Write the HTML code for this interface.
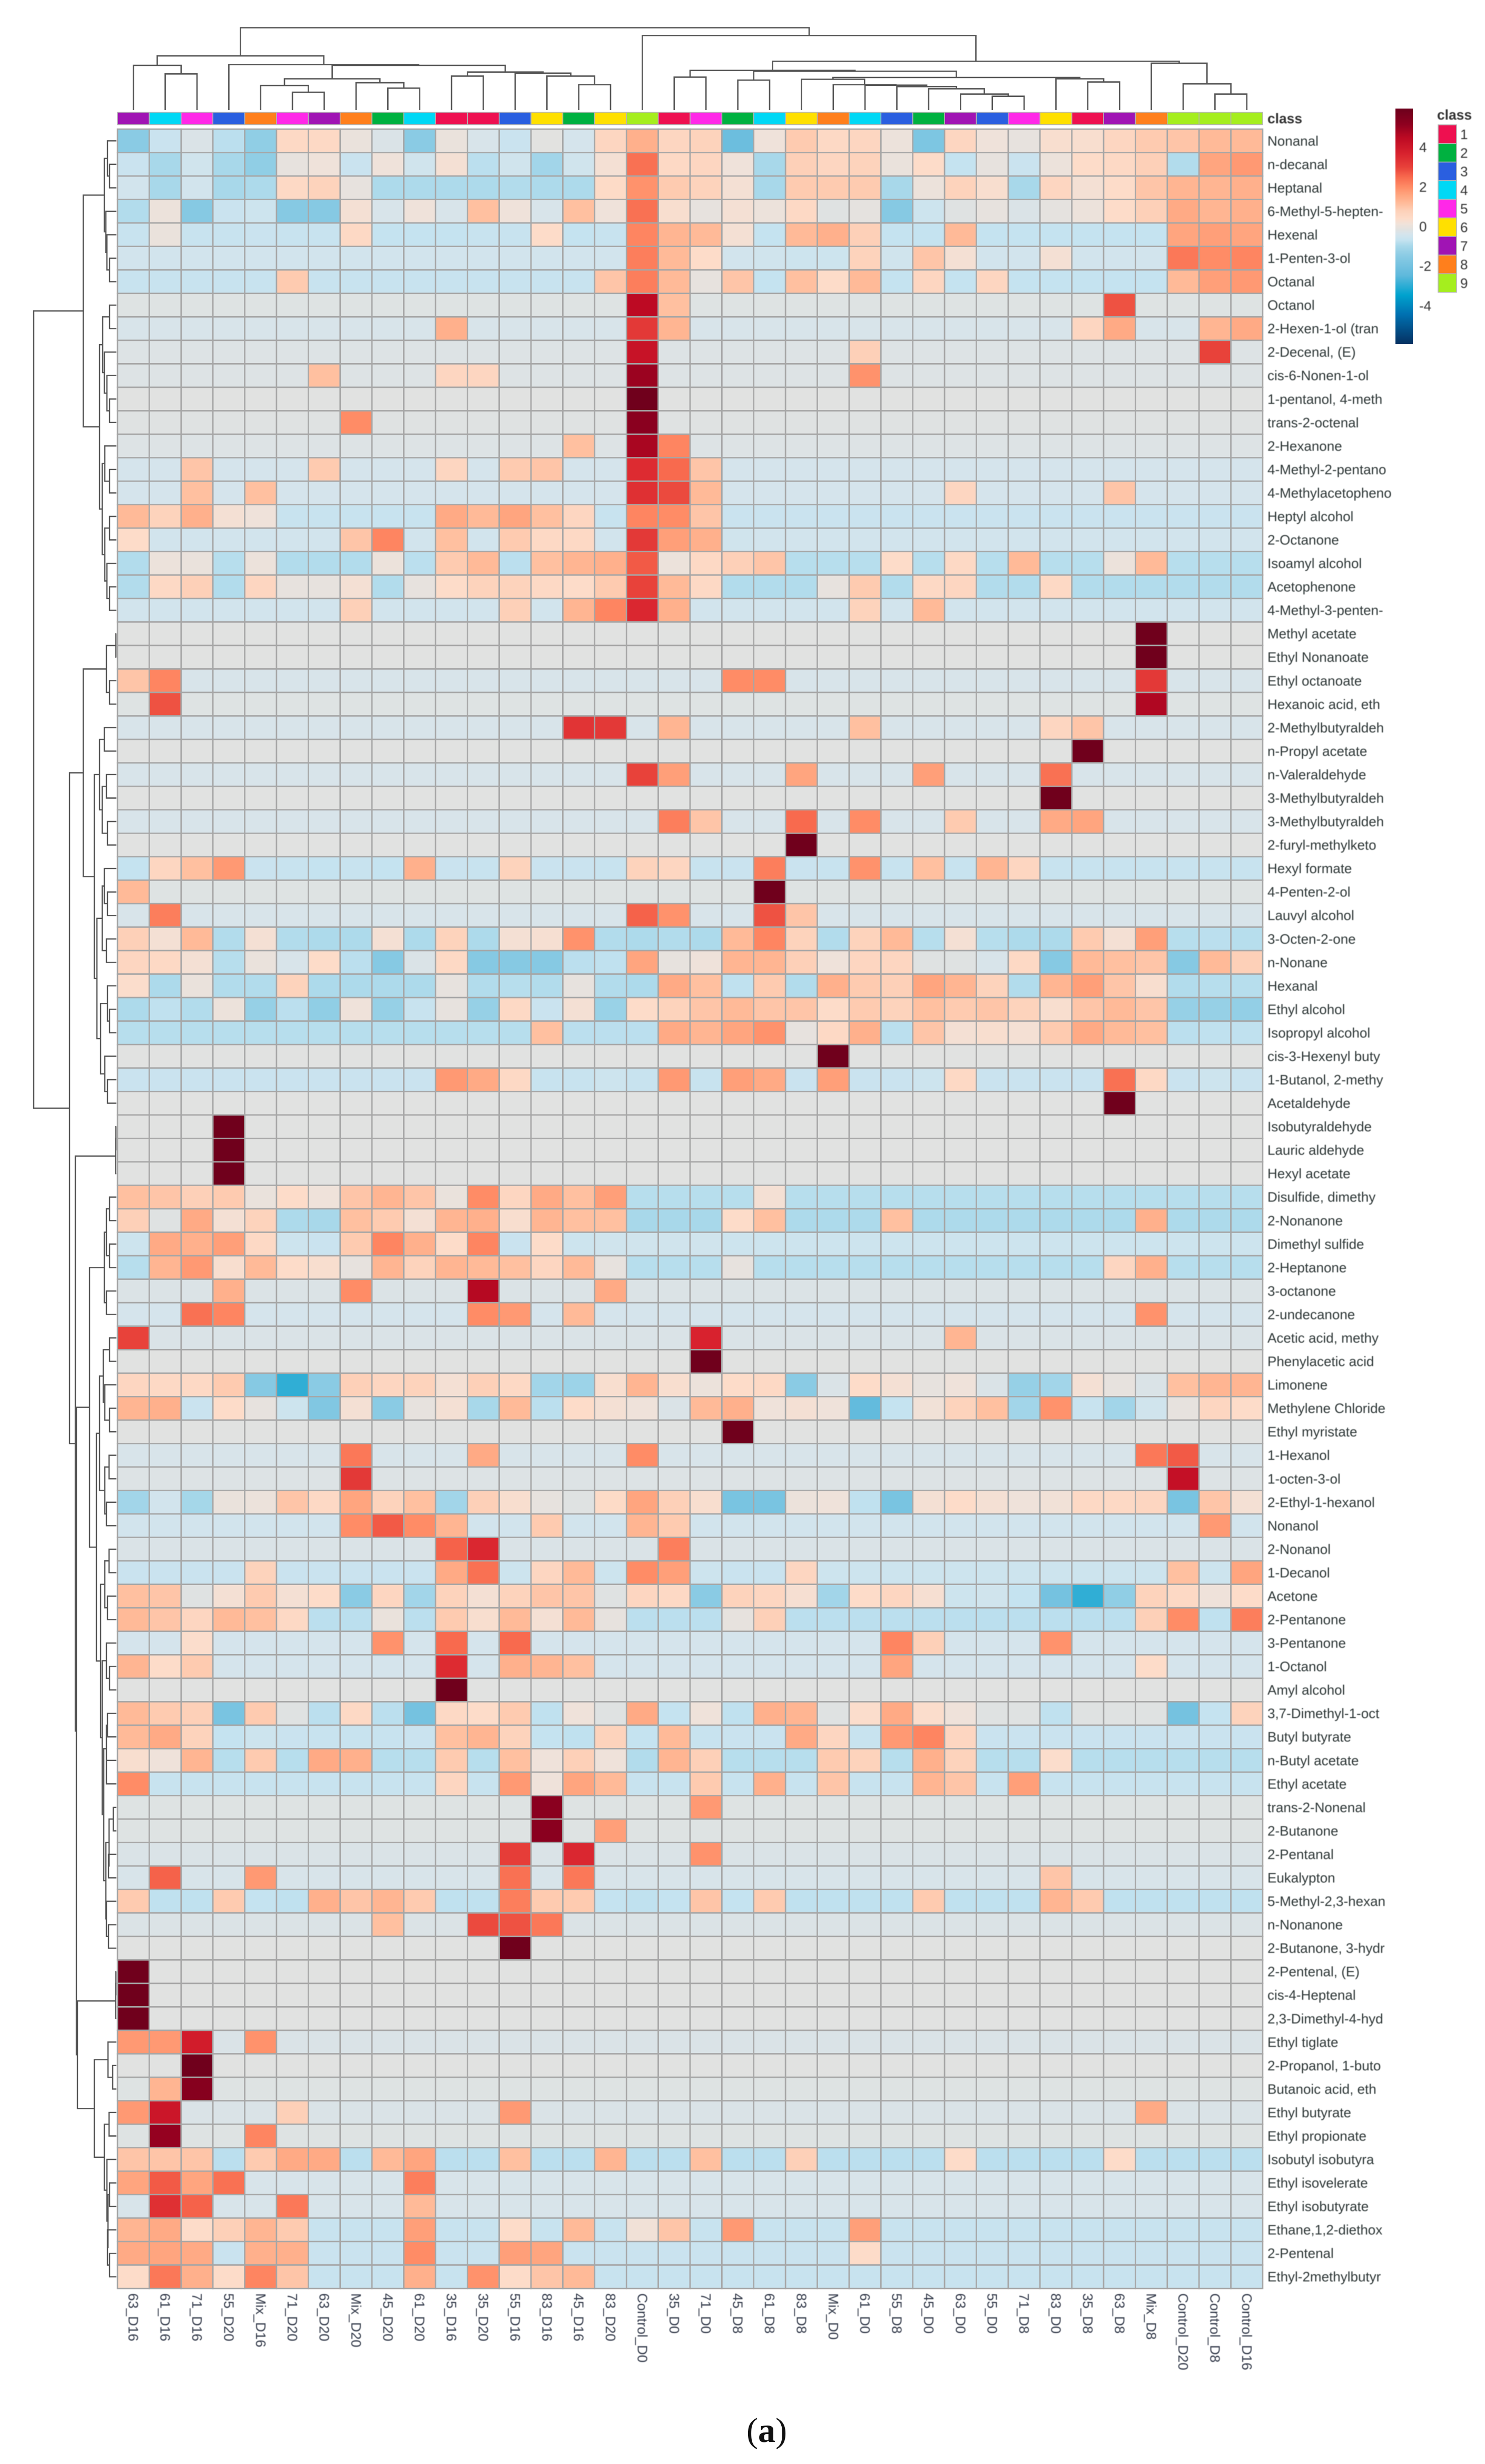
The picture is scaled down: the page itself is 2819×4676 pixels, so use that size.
<!DOCTYPE html>
<html lang="en">
<head>
<meta charset="utf-8">
<title>Clustered heatmap of volatile compounds</title>
<style>
html,body{margin:0;padding:0;background:#fff;}
svg{display:block;}
text{font-family:"Liberation Sans",sans-serif;}
.soft{filter:blur(.7px);}
</style>
</head>
<body>
<svg id="chart" xmlns="http://www.w3.org/2000/svg" width="2819" height="4676" viewBox="0 0 2819 4676">
<defs><linearGradient id="scaleGradient" x1="0" y1="0" x2="0" y2="1"></linearGradient></defs>
<rect width="2819" height="4676" fill="#fff"/>
<path id="colDendro" fill="none" stroke="#555" stroke-width="2.6"/>
<path id="rowDendro" fill="none" stroke="#555" stroke-width="2.4"/>
<g id="classBar"></g>
<g id="cells"></g>
<g id="rowLabelGroup" class="soft"></g>
<g id="colLabelGroup" class="soft"></g>
<text class="soft" x="2406" y="234" font-size="26.4" font-weight="bold" fill="#333">class</text>
<rect x="2649" y="206" width="33" height="447" fill="url(#scaleGradient)"/>
<g id="scaleTicks" class="soft"></g>
<text class="soft" x="2728" y="227" font-size="26.4" font-weight="bold" fill="#333">class</text>
<g id="classLegend"></g>
<text x="1417" y="4634" font-size="66" fill="#111" style="font-family:'Liberation Serif',serif">(<tspan font-weight="bold">a</tspan>)</text>
</svg>
<script>
const columnLabels=["63_D16","61_D16","71_D16","55_D20","Mix_D16","71_D20","63_D20","Mix_D20","45_D20","61_D20","35_D16","35_D20","55_D16","83_D16","45_D16","83_D20","Control_D0","35_D0","71_D0","45_D8","61_D8","83_D8","Mix_D0","61_D0","55_D8","45_D0","63_D0","55_D0","71_D8","83_D0","35_D8","63_D8","Mix_D8","Control_D20","Control_D8","Control_D16"];
const columnClasses=[7,4,5,3,8,5,7,8,2,4,1,1,3,6,2,6,9,1,5,2,4,6,8,4,3,2,7,3,5,6,1,7,8,9,9,9];
const rowLabels=["Nonanal","n-decanal","Heptanal","6-Methyl-5-hepten-","Hexenal","1-Penten-3-ol","Octanal","Octanol","2-Hexen-1-ol (tran","2-Decenal, (E)","cis-6-Nonen-1-ol","1-pentanol, 4-meth","trans-2-octenal","2-Hexanone","4-Methyl-2-pentano","4-Methylacetopheno","Heptyl alcohol","2-Octanone","Isoamyl alcohol","Acetophenone","4-Methyl-3-penten-","Methyl acetate","Ethyl Nonanoate","Ethyl octanoate","Hexanoic acid, eth","2-Methylbutyraldeh","n-Propyl acetate","n-Valeraldehyde","3-Methylbutyraldeh","3-Methylbutyraldeh","2-furyl-methylketo","Hexyl formate","4-Penten-2-ol","Lauvyl alcohol","3-Octen-2-one","n-Nonane","Hexanal","Ethyl alcohol","Isopropyl alcohol","cis-3-Hexenyl buty","1-Butanol, 2-methy","Acetaldehyde","Isobutyraldehyde","Lauric aldehyde","Hexyl acetate","Disulfide, dimethy","2-Nonanone","Dimethyl sulfide","2-Heptanone","3-octanone","2-undecanone","Acetic acid, methy","Phenylacetic acid","Limonene","Methylene Chloride","Ethyl myristate","1-Hexanol","1-octen-3-ol","2-Ethyl-1-hexanol","Nonanol","2-Nonanol","1-Decanol","Acetone","2-Pentanone","3-Pentanone","1-Octanol","Amyl alcohol","3,7-Dimethyl-1-oct","Butyl butyrate","n-Butyl acetate","Ethyl acetate","trans-2-Nonenal","2-Butanone","2-Pentanal","Eukalypton","5-Methyl-2,3-hexan","n-Nonanone","2-Butanone, 3-hydr","2-Pentenal, (E)","cis-4-Heptenal","2,3-Dimethyl-4-hyd","Ethyl tiglate","2-Propanol, 1-buto","Butanoic acid, eth","Ethyl butyrate","Ethyl propionate","Isobutyl isobutyra","Ethyl isovelerate","Ethyl isobutyrate","Ethane,1,2-diethox","2-Pentenal","Ethyl-2methylbutyr"];
const heatValues=[
[-1.5,-.6,-.3,-.8,-1.4,.5,.5,0,-.3,-1.5,0,-.35,-.6,-.15,-.4,.6,1.4,.6,.7,-2.2,.1,.9,.5,.6,.05,-1.8,.6,.1,-.05,.3,.3,.6,.9,1,1.2,1.2],
[-.6,-1,-.5,-1,-1.4,-.05,.1,-.6,.1,-.5,.2,-.8,-.5,-1.1,-.5,.2,2.4,.5,.6,.1,-1,.8,.6,.7,0,.4,-.7,-.05,-.6,.05,.4,.5,.8,-.9,1.6,1.8],
[-.45,-1,-.45,-1,-.95,.5,.7,-.05,-.95,-.95,-.95,-.95,-.9,-.95,-.95,.45,1.9,.9,.7,.2,-1,.9,.9,.9,-1,.05,.7,.3,-1,.6,.2,.4,1,1.3,1.3,1.4],
[-.9,.05,-1.6,-.6,-.55,-1.6,-1.6,.2,-.35,.1,-.35,1.1,.1,-.35,1.1,.1,2.4,.3,-.05,.2,.05,.5,-.2,-.1,-1.6,-.55,-.2,-.05,-.3,-.1,.05,.4,.8,1.5,1.3,1.4],
[-.65,0,-.65,-.65,-.6,-.65,-.65,.5,-.7,-.7,-.7,-.65,-.65,.4,-.7,-.65,2.1,1.3,1.2,.2,-.7,1.2,1.4,.8,-.7,-.7,1.2,-.7,-.7,-.7,-.7,-.7,-.7,1.6,1.7,1.6],
[-.45,-.45,-.45,-.45,-.45,-.45,-.45,-.45,-.45,-.45,-.45,-.45,-.45,-.45,-.45,-.45,2.2,1.2,.4,-.45,-.5,-.55,-.55,.7,-.5,1,.2,-.45,-.45,.2,-.45,-.45,-.45,2.3,2,2.1],
[-.65,-.65,-.65,-.65,-.65,.9,-.65,-.65,-.65,-.65,-.65,-.65,-.65,-.65,-.65,1,2.2,1.2,-.05,1,-.7,1.1,.4,1.2,-.7,.6,-.7,.6,-.7,-.7,-.7,-.7,-.7,1.2,1.7,1.8],
[-.22,-.22,-.22,-.22,-.22,-.22,-.22,-.22,-.22,-.22,-.22,-.22,-.22,-.22,-.22,-.22,4.5,1.1,-.22,-.22,-.22,-.22,-.22,-.22,-.22,-.22,-.22,-.22,-.22,-.22,-.22,2.8,-.22,-.22,-.22,-.22],
[-.35,-.35,-.35,-.35,-.35,-.35,-.35,-.35,-.35,-.35,1.4,-.35,-.35,-.35,-.35,-.35,3.2,1.3,-.35,-.35,-.35,-.35,-.35,-.35,-.35,-.35,-.35,-.35,-.35,-.35,.6,1.5,-.35,-.35,1.3,1.5],
[-.25,-.25,-.25,-.25,-.25,-.25,-.25,-.25,-.25,-.25,-.25,-.25,-.25,-.25,-.25,-.25,4.2,-.25,-.25,-.25,-.25,-.25,-.25,.8,-.25,-.25,-.25,-.25,-.25,-.25,-.25,-.25,-.25,-.25,3,-.25],
[-.25,-.25,-.25,-.25,-.25,-.25,1.1,-.25,-.25,-.25,.6,.6,-.25,-.25,-.25,-.25,5,-.25,-.25,-.25,-.25,-.25,-.25,1.9,-.25,-.25,-.25,-.25,-.25,-.25,-.25,-.25,-.25,-.25,-.25,-.25],
[-.17,-.17,-.17,-.17,-.17,-.17,-.17,-.17,-.17,-.17,-.17,-.17,-.17,-.17,-.17,-.17,5.9,-.17,-.17,-.17,-.17,-.17,-.17,-.17,-.17,-.17,-.17,-.17,-.17,-.17,-.17,-.17,-.17,-.17,-.17,-.17],
[-.2,-.2,-.2,-.2,-.2,-.2,-.2,2,-.2,-.2,-.2,-.2,-.2,-.2,-.2,-.2,5.3,-.2,-.2,-.2,-.2,-.2,-.2,-.2,-.2,-.2,-.2,-.2,-.2,-.2,-.2,-.2,-.2,-.2,-.2,-.2],
[-.25,-.25,-.25,-.25,-.25,-.25,-.25,-.25,-.25,-.25,-.25,-.25,-.25,-.25,1.1,-.25,4.8,2.1,-.25,-.25,-.25,-.25,-.25,-.25,-.25,-.25,-.25,-.25,-.25,-.25,-.25,-.25,-.25,-.25,-.25,-.25],
[-.4,-.4,1,-.4,-.4,-.4,.9,-.4,-.4,-.4,.6,-.4,.9,1,-.4,-.4,3.5,2.5,1,-.4,-.4,-.4,-.4,-.4,-.4,-.4,-.4,-.4,-.4,-.4,-.4,-.4,-.4,-.4,-.4,-.4],
[-.4,-.4,1.1,-.4,1.1,-.4,-.4,-.4,-.4,-.4,-.4,-.4,-.4,-.4,-.4,-.4,3.4,2.9,1.2,-.4,-.4,-.4,-.4,-.4,-.4,-.4,.6,-.4,-.4,-.4,-.4,1,-.4,-.4,-.4,-.4],
[1.2,.7,1.4,.2,.1,-.65,-.65,-.65,-.65,-.65,1.5,1.2,1.6,1.1,.6,-.65,2.1,2,1,-.6,-.6,-.6,-.6,-.6,-.6,-.6,-.6,-.6,-.6,-.6,-.6,-.6,-.6,-.6,-.6,-.6],
[.4,-.45,-.45,-.45,-.45,-.45,-.45,1,2.1,-.45,1.1,-.45,.9,.5,.5,-.45,3.2,1.7,1.4,-.5,-.45,-.45,-.45,-.45,-.45,-.45,-.45,-.45,-.45,-.45,-.45,-.45,-.45,-.45,-.45,-.45],
[-.9,.05,0,-.85,.05,-.9,-.9,-.9,.05,-.8,.9,1.2,-.8,1.1,1.3,1.4,2.7,.05,.5,.8,1,-.85,-.85,-.85,.4,-.85,.5,-.85,1.2,-.85,-.85,.05,1.2,-.85,-.85,-.85],
[-.9,.5,.8,-.9,.6,-.05,-.05,.2,-.9,-.05,.4,.7,.7,.5,.4,.9,3,1.2,.5,-.9,-.9,-.9,-.05,.9,-.9,.5,.6,-.9,-.9,.5,-.9,-.9,-.9,-.9,-.9,-.9],
[-.45,-.45,-.45,-.45,-.45,-.45,-.45,.8,-.45,-.45,-.45,-.45,.8,-.45,1.3,2.1,3.6,1.4,-.45,-.45,-.45,-.45,-.45,.7,-.45,1.2,-.45,-.45,-.45,-.45,-.45,-.45,-.45,-.45,-.45,-.45],
[-.17,-.17,-.17,-.17,-.17,-.17,-.17,-.17,-.17,-.17,-.17,-.17,-.17,-.17,-.17,-.17,-.17,-.17,-.17,-.17,-.17,-.17,-.17,-.17,-.17,-.17,-.17,-.17,-.17,-.17,-.17,-.17,5.9,-.17,-.17,-.17],
[-.17,-.17,-.17,-.17,-.17,-.17,-.17,-.17,-.17,-.17,-.17,-.17,-.17,-.17,-.17,-.17,-.17,-.17,-.17,-.17,-.17,-.17,-.17,-.17,-.17,-.17,-.17,-.17,-.17,-.17,-.17,-.17,5.9,-.17,-.17,-.17],
[1,2.1,-.35,-.35,-.35,-.35,-.35,-.35,-.35,-.35,-.35,-.35,-.35,-.35,-.35,-.35,-.35,-.35,-.35,2,2,-.35,-.35,-.35,-.35,-.35,-.35,-.35,-.35,-.35,-.35,-.35,3.2,-.35,-.35,-.35],
[-.22,2.8,-.22,-.22,-.22,-.22,-.22,-.22,-.22,-.22,-.22,-.22,-.22,-.22,-.22,-.22,-.22,-.22,-.22,-.22,-.22,-.22,-.22,-.22,-.22,-.22,-.22,-.22,-.22,-.22,-.22,-.22,4.7,-.22,-.22,-.22],
[-.35,-.35,-.35,-.35,-.35,-.35,-.35,-.35,-.35,-.35,-.35,-.35,-.35,-.35,3.3,3.2,-.35,1.3,-.35,-.35,-.35,-.35,-.35,1.1,-.35,-.35,-.35,-.35,-.35,.6,1,-.35,-.35,-.35,-.35,-.35],
[-.17,-.17,-.17,-.17,-.17,-.17,-.17,-.17,-.17,-.17,-.17,-.17,-.17,-.17,-.17,-.17,-.17,-.17,-.17,-.17,-.17,-.17,-.17,-.17,-.17,-.17,-.17,-.17,-.17,-.17,5.9,-.17,-.17,-.17,-.17,-.17],
[-.35,-.35,-.35,-.35,-.35,-.35,-.35,-.35,-.35,-.35,-.35,-.35,-.35,-.35,-.35,-.35,3,1.7,-.35,-.35,-.35,1.6,-.35,-.35,-.35,1.7,-.35,-.35,-.35,2.4,-.35,-.35,-.35,-.35,-.35,-.35],
[-.17,-.17,-.17,-.17,-.17,-.17,-.17,-.17,-.17,-.17,-.17,-.17,-.17,-.17,-.17,-.17,-.17,-.17,-.17,-.17,-.17,-.17,-.17,-.17,-.17,-.17,-.17,-.17,-.17,5.9,-.17,-.17,-.17,-.17,-.17,-.17],
[-.35,-.35,-.35,-.35,-.35,-.35,-.35,-.35,-.35,-.35,-.35,-.35,-.35,-.35,-.35,-.35,-.35,2.2,1,-.35,-.35,2.5,-.35,2,-.35,-.35,.9,-.35,-.35,1.5,1.6,-.35,-.35,-.35,-.35,-.35],
[-.17,-.17,-.17,-.17,-.17,-.17,-.17,-.17,-.17,-.17,-.17,-.17,-.17,-.17,-.17,-.17,-.17,-.17,-.17,-.17,-.17,5.9,-.17,-.17,-.17,-.17,-.17,-.17,-.17,-.17,-.17,-.17,-.17,-.17,-.17,-.17],
[-.7,.6,1.1,1.8,-.6,-.65,-.7,-.65,-.7,1.4,-.6,-.65,.7,-.6,-.6,-.65,.7,.6,-.65,-.6,2.2,-.6,-.65,1.9,-.65,1.1,-.65,1.3,.6,-.65,-.65,-.65,-.65,-.65,-.65,-.65],
[1.2,-.22,-.22,-.22,-.22,-.22,-.22,-.22,-.22,-.22,-.22,-.22,-.22,-.22,-.22,-.22,-.22,-.22,-.22,-.22,5.9,-.22,-.22,-.22,-.22,-.22,-.22,-.22,-.22,-.22,-.22,-.22,-.22,-.22,-.22,-.22],
[-.35,2.2,-.35,-.35,-.35,-.35,-.35,-.35,-.35,-.35,-.35,-.35,-.35,-.35,-.35,-.35,2.6,1.9,-.35,-.35,2.8,1,-.35,-.35,-.35,-.35,-.35,-.35,-.35,-.35,-.35,-.35,-.35,-.35,-.35,-.35],
[.8,.2,1.2,-.9,.2,-.9,-.95,-.95,.2,-.95,.7,-.95,.2,.25,1.9,-.9,-.95,-.9,-.95,1.2,2.1,.7,-.9,.7,1.2,-.85,.2,-.85,-.95,-.95,.9,.2,1.7,-.85,-.8,-.85],
[.6,.5,.2,-.85,0,-.35,.4,-.8,-1.6,-.3,.5,-1.6,-1.6,-1.6,-.8,-.75,1.6,-.05,.1,1.3,1.3,.8,.1,.6,.6,-.2,-.2,-.35,.5,-1.6,1.2,1.1,1,-1.6,1.2,.8],
[.35,-.95,0,-.9,-.9,.7,-.95,-.95,-.95,-.95,-.05,-.9,-.85,-.9,-.05,-.9,-.95,1.5,1.1,-.75,.9,-.9,1.4,.9,.8,1.6,1.3,.7,-.9,1.3,1.7,1,.3,-.9,-.85,-.85],
[-.95,-.75,-.9,.05,-1.3,-.8,-1.4,.1,-1.3,-.65,-.05,-1.3,.5,-.6,.2,-1.25,.4,.7,1,1.2,1,1,.4,.9,.7,1.1,.9,1,.7,.3,1,1.2,1,-1.3,-1.3,-1.35],
[-.85,-.85,-.85,-.85,-.85,-.85,-.85,-.85,-.85,-.85,-.85,-.85,-.85,1.1,-.8,-.8,-.8,1.5,1.3,1.6,1.9,-.05,.5,1.4,-.8,1,.2,.3,.2,.9,1.5,1.2,1.1,-.8,-.75,-.75],
[-.17,-.17,-.17,-.17,-.17,-.17,-.17,-.17,-.17,-.17,-.17,-.17,-.17,-.17,-.17,-.17,-.17,-.17,-.17,-.17,-.17,-.17,5.9,-.17,-.17,-.17,-.17,-.17,-.17,-.17,-.17,-.17,-.17,-.17,-.17,-.17],
[-.6,-.6,-.6,-.6,-.6,-.6,-.6,-.6,-.6,-.6,1.8,1.5,.5,-.65,-.65,-.55,-.65,1.8,-.65,1.7,1.5,-.6,1.7,-.6,-.6,-.55,.5,-.6,-.6,-.6,-.6,2.4,.5,-.6,-.55,-.6],
[-.17,-.17,-.17,-.17,-.17,-.17,-.17,-.17,-.17,-.17,-.17,-.17,-.17,-.17,-.17,-.17,-.17,-.17,-.17,-.17,-.17,-.17,-.17,-.17,-.17,-.17,-.17,-.17,-.17,-.17,-.17,5.9,-.17,-.17,-.17,-.17],
[-.17,-.17,-.17,5.9,-.17,-.17,-.17,-.17,-.17,-.17,-.17,-.17,-.17,-.17,-.17,-.17,-.17,-.17,-.17,-.17,-.17,-.17,-.17,-.17,-.17,-.17,-.17,-.17,-.17,-.17,-.17,-.17,-.17,-.17,-.17,-.17],
[-.17,-.17,-.17,5.9,-.17,-.17,-.17,-.17,-.17,-.17,-.17,-.17,-.17,-.17,-.17,-.17,-.17,-.17,-.17,-.17,-.17,-.17,-.17,-.17,-.17,-.17,-.17,-.17,-.17,-.17,-.17,-.17,-.17,-.17,-.17,-.17],
[-.17,-.17,-.17,5.9,-.17,-.17,-.17,-.17,-.17,-.17,-.17,-.17,-.17,-.17,-.17,-.17,-.17,-.17,-.17,-.17,-.17,-.17,-.17,-.17,-.17,-.17,-.17,-.17,-.17,-.17,-.17,-.17,-.17,-.17,-.17,-.17],
[1.1,1,.8,.9,0,.4,.1,1,1.3,1,0,2,.6,1.5,1.1,1.7,-.85,-.85,-.85,-.85,.2,-.85,-.85,-.85,-.85,-.85,-.85,-.85,-.85,-.85,-.85,-.85,-.85,-.85,-.85,-.85],
[.8,-.2,1.5,.2,.7,-.95,-1,1.1,.9,.2,1.3,1.4,.3,1.3,1.1,1.1,-1,-1,-1,.4,1.1,-.95,-.95,-.95,1.1,-.95,-.95,-.95,-.95,-.95,-.95,-.95,1.4,-.95,-.95,-.95],
[-.55,1.5,1.4,1.7,.5,-.55,-.6,.9,2.1,1.4,.4,2.1,-.6,.4,-.55,-.5,-.5,-.5,-.5,-.55,-.55,-.55,-.55,-.55,-.55,-.55,-.55,-.55,-.55,-.55,-.55,-.55,-.55,-.55,-.55,-.55],
[-.85,1.3,1.8,.3,1.2,.4,.3,-.05,1.3,.7,1.3,1.2,1.1,.6,1.2,-.05,-.85,-.85,-.85,-.05,-.85,-.85,-.85,-.85,-.85,-.85,-.85,-.85,-.85,-.85,-.85,.6,1.4,-.85,-.85,-.85],
[-.28,-.28,-.28,1.4,-.28,-.28,-.28,2,-.28,-.28,-.28,4.6,-.28,-.28,-.28,1.5,-.28,-.28,-.28,-.28,-.28,-.28,-.28,-.28,-.28,-.28,-.28,-.28,-.28,-.28,-.28,-.28,-.28,-.28,-.28,-.28],
[-.4,-.4,2.4,2.1,-.4,-.4,-.4,-.4,-.4,-.4,-.4,2,1.8,-.4,1.2,-.4,-.4,-.4,-.4,-.4,-.4,-.4,-.4,-.4,-.4,-.4,-.4,-.4,-.4,-.4,-.4,-.4,1.9,-.4,-.4,-.4],
[3,-.3,-.3,-.3,-.3,-.3,-.3,-.3,-.3,-.3,-.3,-.3,-.3,-.3,-.3,-.3,-.3,-.3,3.7,-.3,-.3,-.3,-.3,-.3,-.3,-.3,1.3,-.3,-.3,-.3,-.3,-.3,-.3,-.3,-.3,-.3],
[-.17,-.17,-.17,-.17,-.17,-.17,-.17,-.17,-.17,-.17,-.17,-.17,-.17,-.17,-.17,-.17,-.17,-.17,5.9,-.17,-.17,-.17,-.17,-.17,-.17,-.17,-.17,-.17,-.17,-.17,-.17,-.17,-.17,-.17,-.17,-.17],
[.6,.5,.5,.9,-1.6,-3,-1.5,.8,.6,.7,.2,.8,.5,-1.1,-1.2,.3,1.3,.3,.05,.4,.5,-1.5,-.3,.4,.2,-.05,.1,-.3,-1.3,-1.1,.2,-.05,-.3,1.1,1.3,1.3],
[1.3,1.4,-.6,.4,-.05,-.55,-1.7,.2,-1.5,-.05,.2,-1,1.2,-.8,.4,.2,.1,-.3,1.2,1.4,.1,.2,.1,-2.4,-.7,.15,.7,1.1,-1.1,1.9,-.65,-1.1,-.5,-.05,.6,.4],
[-.17,-.17,-.17,-.17,-.17,-.17,-.17,-.17,-.17,-.17,-.17,-.17,-.17,-.17,-.17,-.17,-.17,-.17,-.17,5.9,-.17,-.17,-.17,-.17,-.17,-.17,-.17,-.17,-.17,-.17,-.17,-.17,-.17,-.17,-.17,-.17],
[-.35,-.35,-.35,-.35,-.35,-.35,-.35,2.3,-.35,-.35,-.35,1.5,-.35,-.35,-.35,-.35,2,-.35,-.35,-.35,-.35,-.35,-.35,-.35,-.35,-.35,-.35,-.35,-.35,-.35,-.35,-.35,2.3,2.7,-.35,-.35],
[-.25,-.25,-.25,-.25,-.25,-.25,-.25,3.2,-.25,-.25,-.25,-.25,-.25,-.25,-.25,-.25,-.25,-.25,-.25,-.25,-.25,-.25,-.25,-.25,-.25,-.25,-.25,-.25,-.25,-.25,-.25,-.25,-.25,4.3,-.25,-.25],
[-1.1,-.45,-1.05,0,.05,1,.5,1.6,.7,1.1,-1.1,.8,.3,-.05,-.2,.45,1.6,.8,.3,-1.9,-1.9,.05,.1,-.75,-1.9,.2,.4,.2,.1,.15,.5,.5,.6,-1.9,1,.2],
[-.45,-.45,-.45,-.45,-.45,-.45,-.45,2,2.7,2,1.3,-.45,-.45,.9,-.45,-.45,1.3,.9,-.45,-.45,-.45,-.45,-.45,-.45,-.45,-.45,-.45,-.45,-.45,-.45,-.45,-.45,-.45,-.45,1.8,-.45],
[-.3,-.3,-.3,-.3,-.3,-.3,-.3,-.3,-.3,-.3,2.6,3.6,-.3,-.3,-.3,-.3,-.3,2.2,-.3,-.3,-.3,-.3,-.3,-.3,-.3,-.3,-.3,-.3,-.3,-.3,-.3,-.3,-.3,-.3,-.3,-.3],
[-.6,-.6,-.6,-.6,.7,-.6,-.6,-.6,-.6,-.6,1.5,2.4,-.55,.6,1.2,-.55,2,1.7,-.55,-.6,-.6,.6,-.55,-.55,-.55,-.55,-.55,-.55,-.55,-.55,-.55,-.55,-.55,1.1,-.55,1.6],
[1.1,1,-.2,.2,.9,.2,.4,-1.5,.6,-1.1,.7,.2,.7,1,1,-.2,.6,.5,-1.5,.7,.6,.25,-1.1,.4,.6,.25,-.55,-.5,-.7,-2,-3,-1.4,.7,.5,.1,.4],
[1.2,1,.6,1.2,1.1,.5,-.8,-.8,0,-.8,.9,.3,1.2,.2,1.2,-.05,-.8,-.8,-.8,-.05,.8,-.8,-.8,-.8,-.8,-.8,-.8,-.8,-.8,-.8,-.8,-.8,.8,2,-.75,2.2],
[-.4,-.4,.35,-.4,-.4,-.4,-.4,-.4,1.9,-.4,2.5,-.4,2.5,-.4,-.4,-.4,-.4,-.4,-.4,-.4,-.4,-.4,-.4,-.4,2.1,.8,-.4,-.4,-.4,1.9,-.4,-.4,-.4,-.4,-.4,-.4],
[1.3,.4,.9,-.4,-.4,-.4,-.4,-.4,-.4,-.4,3.5,-.4,1.4,1.3,1.1,-.4,-.4,-.4,-.4,-.4,-.4,-.4,-.4,-.4,1.6,-.4,-.4,-.4,-.4,-.4,-.4,-.4,.4,-.4,-.4,-.4],
[-.17,-.17,-.17,-.17,-.17,-.17,-.17,-.17,-.17,-.17,5.9,-.17,-.17,-.17,-.17,-.17,-.17,-.17,-.17,-.17,-.17,-.17,-.17,-.17,-.17,-.17,-.17,-.17,-.17,-.17,-.17,-.17,-.17,-.17,-.17,-.17],
[1.2,.9,.8,-1.9,.9,-.2,-.8,.5,-.8,-2,.5,.4,.9,-.75,.1,-.2,1.5,-.7,.1,-.75,1.4,1.3,-.2,.35,1.5,.35,.1,-.2,-.2,-.75,-.2,-.2,-.2,-2,-.7,.7],
[1.2,1.5,.7,-.7,-.55,-.6,-.65,-.65,-.65,-.6,1.1,1.3,.7,-.7,-.75,.7,-.7,1.2,-.65,-.6,-.6,1.5,.6,-.65,1.8,2.1,.6,-.6,-.6,-.6,-.6,-.6,-.6,-.6,-.6,-.6],
[.3,.1,1.3,-.85,.9,-.85,1.5,1.4,-.85,-.85,.9,-.85,1.1,.1,.8,.1,-.9,1.3,.8,-.85,-.85,-.85,.9,.7,-.85,1.4,.7,-.85,-.85,.35,-.85,-.85,-.85,-.85,-.85,-.85],
[2,-.65,-.65,-.65,-.65,-.65,-.65,-.65,-.65,-.65,.6,-.65,1.8,.1,1.6,1.2,-.65,-.65,.9,-.65,1.4,-.65,1,-.65,-.65,1.3,1,-.65,1.7,-.65,-.65,-.65,-.65,-.65,-.65,-.65],
[-.22,-.22,-.22,-.22,-.22,-.22,-.22,-.22,-.22,-.22,-.22,-.22,-.22,5.3,-.22,-.22,-.22,-.22,1.8,-.22,-.22,-.22,-.22,-.22,-.22,-.22,-.22,-.22,-.22,-.22,-.22,-.22,-.22,-.22,-.22,-.22],
[-.22,-.22,-.22,-.22,-.22,-.22,-.22,-.22,-.22,-.22,-.22,-.22,-.22,5.3,-.22,1.7,-.22,-.22,-.22,-.22,-.22,-.22,-.22,-.22,-.22,-.22,-.22,-.22,-.22,-.22,-.22,-.22,-.22,-.22,-.22,-.22],
[-.3,-.3,-.3,-.3,-.3,-.3,-.3,-.3,-.3,-.3,-.3,-.3,3.1,-.3,3.6,-.3,-.3,-.3,1.9,-.3,-.3,-.3,-.3,-.3,-.3,-.3,-.3,-.3,-.3,-.3,-.3,-.3,-.3,-.3,-.3,-.3],
[-.35,2.6,-.35,-.35,1.8,-.35,-.35,-.35,-.35,-.35,-.35,-.35,2.4,-.35,2.3,-.35,-.35,-.35,-.35,-.35,-.35,-.35,-.35,-.35,-.35,-.35,-.35,-.35,-.35,1,-.35,-.35,-.35,-.35,-.35,-.35],
[.9,-.75,-.75,.9,-.7,-.75,1.4,1,1.3,.9,-.75,-.75,2.2,.9,.9,-.7,-.75,-.7,1,-.7,.9,-.75,-.75,-.75,-.75,.9,-.75,-.75,-.75,1.3,.9,-.75,-.75,-.75,-.75,-.75],
[-.28,-.28,-.28,-.28,-.28,-.28,-.28,-.28,1.1,-.28,-.28,2.9,2.8,2.3,-.28,-.28,-.28,-.28,-.28,-.28,-.28,-.28,-.28,-.28,-.28,-.28,-.28,-.28,-.28,-.28,-.28,-.28,-.28,-.28,-.28,-.28],
[-.17,-.17,-.17,-.17,-.17,-.17,-.17,-.17,-.17,-.17,-.17,-.17,5.9,-.17,-.17,-.17,-.17,-.17,-.17,-.17,-.17,-.17,-.17,-.17,-.17,-.17,-.17,-.17,-.17,-.17,-.17,-.17,-.17,-.17,-.17,-.17],
[5.9,-.17,-.17,-.17,-.17,-.17,-.17,-.17,-.17,-.17,-.17,-.17,-.17,-.17,-.17,-.17,-.17,-.17,-.17,-.17,-.17,-.17,-.17,-.17,-.17,-.17,-.17,-.17,-.17,-.17,-.17,-.17,-.17,-.17,-.17,-.17],
[5.9,-.17,-.17,-.17,-.17,-.17,-.17,-.17,-.17,-.17,-.17,-.17,-.17,-.17,-.17,-.17,-.17,-.17,-.17,-.17,-.17,-.17,-.17,-.17,-.17,-.17,-.17,-.17,-.17,-.17,-.17,-.17,-.17,-.17,-.17,-.17],
[5.9,-.17,-.17,-.17,-.17,-.17,-.17,-.17,-.17,-.17,-.17,-.17,-.17,-.17,-.17,-.17,-.17,-.17,-.17,-.17,-.17,-.17,-.17,-.17,-.17,-.17,-.17,-.17,-.17,-.17,-.17,-.17,-.17,-.17,-.17,-.17],
[1.8,1.8,3.9,-.3,1.9,-.3,-.3,-.3,-.3,-.3,-.3,-.3,-.3,-.3,-.3,-.3,-.3,-.3,-.3,-.3,-.3,-.3,-.3,-.3,-.3,-.3,-.3,-.3,-.3,-.3,-.3,-.3,-.3,-.3,-.3,-.3],
[-.17,-.17,5.9,-.17,-.17,-.17,-.17,-.17,-.17,-.17,-.17,-.17,-.17,-.17,-.17,-.17,-.17,-.17,-.17,-.17,-.17,-.17,-.17,-.17,-.17,-.17,-.17,-.17,-.17,-.17,-.17,-.17,-.17,-.17,-.17,-.17],
[-.22,1.3,5.4,-.22,-.22,-.22,-.22,-.22,-.22,-.22,-.22,-.22,-.22,-.22,-.22,-.22,-.22,-.22,-.22,-.22,-.22,-.22,-.22,-.22,-.22,-.22,-.22,-.22,-.22,-.22,-.22,-.22,-.22,-.22,-.22,-.22],
[1.8,4.1,-.3,-.3,-.3,.8,-.3,-.3,-.3,-.3,-.3,-.3,1.8,-.3,-.3,-.3,-.3,-.3,-.3,-.3,-.3,-.3,-.3,-.3,-.3,-.3,-.3,-.3,-.3,-.3,-.3,-.3,1.5,-.3,-.3,-.3],
[-.22,5.1,-.22,-.22,2.1,-.22,-.22,-.22,-.22,-.22,-.22,-.22,-.22,-.22,-.22,-.22,-.22,-.22,-.22,-.22,-.22,-.22,-.22,-.22,-.22,-.22,-.22,-.22,-.22,-.22,-.22,-.22,-.22,-.22,-.22,-.22],
[1,1,1,-.8,.9,1.5,1.5,-.8,1.2,1.6,-.8,-.8,1.1,-.8,-.8,1.3,-.8,-.8,1.1,-.8,-.8,.8,-.8,-.8,-.8,-.8,.4,-.8,-.8,-.8,-.8,.4,-.8,-.8,-.8,-.8],
[1.6,2.7,1.6,2.4,-.35,-.35,-.35,-.35,-.35,2.2,-.35,-.35,-.35,-.35,-.35,-.35,-.35,-.35,-.35,-.35,-.35,-.35,-.35,-.35,-.35,-.35,-.35,-.35,-.35,-.35,-.35,-.35,-.35,-.35,-.35,-.35],
[-.35,3.4,2.6,-.35,-.35,2.3,-.35,-.35,-.35,1.2,-.35,-.35,-.35,-.35,-.35,-.35,-.35,-.35,-.35,-.35,-.35,-.35,-.35,-.35,-.35,-.35,-.35,-.35,-.35,-.35,-.35,-.35,-.35,-.35,-.35,-.35],
[1.3,1.5,.4,.8,1.3,.9,-.65,-.65,-.65,1.7,-.65,-.65,.4,-.65,1.2,-.65,.15,1,-.65,1.8,-.65,-.65,-.65,1.7,-.65,-.65,-.65,-.65,-.65,-.65,-.65,-.65,-.65,-.65,-.65,-.65],
[1.5,1.6,1.5,-.6,1.4,1.4,-.6,-.6,-.6,2,-.6,-.6,1.7,1.6,-.6,-.6,-.6,-.6,-.6,-.6,-.6,-.6,-.6,.4,-.6,-.6,-.6,-.6,-.6,-.6,-.6,-.6,-.6,-.6,-.6,-.6],
[.4,2.3,1.4,.4,2.1,1,-.65,-.65,-.65,1.4,-.65,1.9,.4,1,1.2,-.65,-.65,-.65,-.65,-.65,-.65,-.65,-.65,-.65,-.65,-.65,-.65,-.65,-.65,-.65,-.65,-.65,-.65,-.65,-.65,-.65]
];
const scaleTicks=[4,2,0,-2,-4];
const legendClasses=[1,2,3,4,5,6,7,8,9];
const classColors=["#ee1050","#00b140","#2a5fe0","#00d8f5","#ff28e8","#ffe000","#a014b4","#ff7f1c","#a5ee1e"];
const colorStopValues=[-6,-4.5,-3.5,-2.5,-1.5,-1,-.7,-.4,-.15,.1,.4,.8,1.2,1.6,2,2.5,3,3.7,4.5,5.2,6];
const colorStopHexes=["#053061","#0070b0","#00a2ce","#5fb9dc","#8acbe4","#a8d8ea","#c5e3f0","#d5e4ec","#e2e2e0","#efe2da","#fddcc9","#fdd0b8","#ffba98","#ffa57f","#ff8c66","#f86a4e","#e8423a","#d8222e","#bd0a23","#8e001f","#6c001c"];
/* merge trees: [merge height, left branch, right branch]; numbers are 1-based leaves */
const columnTree=[156.4,[102.9,[85,1,[68.7,2,3]],[86.6,4,[85,[59.5,[46.8,5,[34,6,7]],[51.9,8,[41.7,9,10]]],[72.3,[64.6,11,12],[70.2,13,[64.6,14,[48.3,15,16]]]]]]],[141.7,17,[92.7,[75.3,[62.6,18,19],[73.8,[57,20,21],[62,[58.5,22,[48.3,23,[47.3,24,[44.7,25,[40.6,26,[30.4,27,[26.3,28,29]]]]]]],[59.5,30,[53.4,31,32]]]]],[89.1,33,[49.8,34,[30.4,35,36]]]]]];
const rowTree=[157,
 [63,
  [23,[17,1,[13,2,3]],[20,4,[18,5,[13,6,7]]]],
  [32,
   [26,[13,8,9],[23,10,[18,11,[13,12,13]]]],
   [27,[22,14,[13,15,16]],[22,[13,17,18],[18,19,[13,20,21]]]]]],
 [89,
  [63,
   [19,[1,22,23],[13,24,25]],
   [42,
    [32,[23,26,27],[27,[19,28,29],[17,30,31]]],
    [37,[27,[23,32,[17,33,34]],[19,35,36]],[30,[17,37,[13,38,39]],[22,40,[17,41,42]]]]]],
  [78,
   [1.5,[1,43,44],45],
   [76,
    [51,
     [23,[19,[13,46,47],[13,48,49]],[19,50,51]],
     [38,
      [32,[25,[13,52,53],[22,54,[13,55,56]]],[22,[14,57,58],[19,59,60]]],
      [30,[22,[14,61,62],[17,63,64]],[27,[19,65,[13,66,67]],[24,[19,[17,68,69],[19,70,71]],[20,[14,[6,72,73],[15,74,75]],[19,76,[15,77,78]]]]]]]],
    [74,
     [1.5,[1,79,80],81],
     [42,
      [16,82,[7,83,84]],
      [23,[14,85,86],[18,87,[16,[13,88,89],[17,90,[13,91,92]]]]]]]]]]];

const NS="http://www.w3.org/2000/svg";
const heatLeft=223,heatRight=2397,heatTop=245,heatBottom=4343;
const cellW=(heatRight-heatLeft)/columnLabels.length;
const cellH=(heatBottom-heatTop)/rowLabels.length;
function xScale(col){return heatLeft+col*cellW;}
function yScale(row){return heatTop+row*cellH;}
function scaleY(v){return 430-v*37.6;}
function hexToRgb(h){return [parseInt(h.slice(1,3),16),parseInt(h.slice(3,5),16),parseInt(h.slice(5,7),16)];}
function colorFor(v){
  const s=colorStopValues,c=colorStopHexes;
  if(v<=s[0])return c[0];
  for(let i=1;i<s.length;i++){
    if(v<=s[i]){
      const t=(v-s[i-1])/(s[i]-s[i-1]);
      const a=hexToRgb(c[i-1]),b=hexToRgb(c[i]);
      return "rgb("+a.map((x,k)=>Math.round(x+(b[k]-x)*t)).join(",")+")";
    }
  }
  return c[c.length-1];
}
function mk(tag,attrs,parent){
  const el=document.createElementNS(NS,tag);
  for(const k in attrs)el.setAttribute(k,attrs[k]);
  parent.appendChild(el);
  return el;
}
/* heatmap cells */
const cellsG=document.getElementById("cells");
heatValues.forEach((row,r)=>{
  row.forEach((v,c)=>{
    const el=mk("rect",{x:xScale(c),y:yScale(r),width:cellW,height:cellH,fill:colorFor(v),stroke:"#a6a6a6","stroke-width":2.6},cellsG);
    
    
  });
});
/* class annotation bar */
const classG=document.getElementById("classBar");
columnClasses.forEach((k,c)=>{
  const el=mk("rect",{x:xScale(c),y:213,width:cellW,height:23.5,fill:classColors[k-1],stroke:"#b4b4b4","stroke-width":1.6},classG);
  
  
});
/* row labels */
const rowG=document.getElementById("rowLabelGroup");
rowLabels.forEach((t,r)=>{
  const el=mk("text",{x:2406,y:yScale(r+.5)+9,"font-size":26,fill:"#2f3838"},rowG);
  el.textContent=t;
  
  
});
/* column labels */
const colG=document.getElementById("colLabelGroup");
columnLabels.forEach((t,c)=>{
  const x=xScale(c+.5)-9;
  const el=mk("text",{x:x,y:4352,"font-size":26,fill:"#333a4a",transform:"rotate(90 "+x+" 4352)"},colG);
  el.textContent=t;
  
  
});
/* dendrograms */
function treePath(tree,leafPos,toXY){
  let d="";
  function walk(n){
    if(typeof n==="number")return {p:leafPos(n),h:0};
    const A=walk(n[1]),B=walk(n[2]),h=n[0];
    const a0=toXY(A.p,A.h),a1=toXY(A.p,h),b1=toXY(B.p,h),b0=toXY(B.p,B.h);
    d+="M"+a0+"L"+a1+"L"+b1+"L"+b0;
    return {p:(A.p+B.p)/2,h:h};
  }
  walk(tree);
  return d;
}
document.getElementById("colDendro").setAttribute("d",treePath(columnTree,n=>xScale(n-.5),(p,h)=>p.toFixed(1)+" "+(209-h).toFixed(1)));
document.getElementById("rowDendro").setAttribute("d",treePath(rowTree,n=>yScale(n-.5),(p,h)=>(221-h).toFixed(1)+" "+p.toFixed(1)));
/* color scale */
const grad=document.getElementById("scaleGradient");
colorStopValues.forEach((v,i)=>{
  mk("stop",{offset:((6-v)/12).toFixed(4),"stop-color":colorStopHexes[i]},grad);
});
Array.from(grad.children).reverse().forEach(s=>grad.appendChild(s));
const tickG=document.getElementById("scaleTicks");
scaleTicks.forEach(v=>{
  const el=mk("text",{x:2694,y:scaleY(v)+9,"font-size":26,fill:"#333"},tickG);
  el.textContent=String(v);
  
  
});
/* class legend */
const legendG=document.getElementById("classLegend");
legendClasses.forEach((k,i)=>{
  const y=237+i*35.3;
  const sw=mk("rect",{x:2730,y:y,width:35,height:35.3,fill:classColors[k-1],stroke:"#b4b4b4","stroke-width":1.6},legendG);
  
  
  const lb=mk("text",{x:2772,y:y+27,"font-size":26,fill:"#333",class:"soft"},legendG);
  lb.textContent=String(k);
  
  
});
</script>
</body>
</html>
